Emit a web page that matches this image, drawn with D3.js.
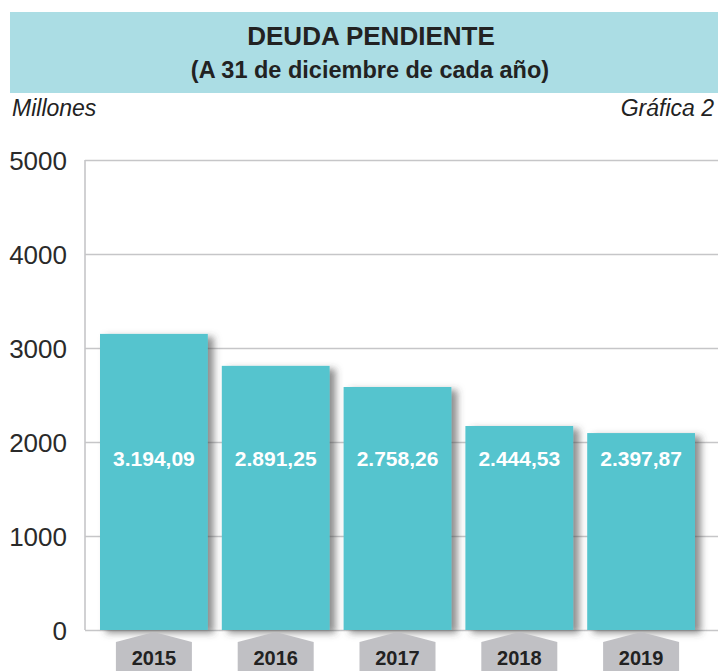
<!DOCTYPE html>
<html>
<head>
<meta charset="utf-8">
<script src="https://cdn.jsdelivr.net/npm/d3@7"></script>
<style>
  body { margin: 0; background: #fff; }
  text { font-family: "Liberation Sans", Arial, sans-serif; }
</style>
</head>
<body>
<div class="chart"></div>
<script>
// data
const years = ["2015", "2016", "2017", "2018", "2019"]
const barValues = [3150, 2810, 2585, 2170, 2095]
const valueLabels = ["3.194,09", "2.891,25", "2.758,26", "2.444,53", "2.397,87"]
const yTicks = [0, 1000, 2000, 3000, 4000, 5000]

const width = 718
const height = 671

const svg = d3.select(".chart").append("svg")
    .attr("width", width)
    .attr("height", height)

const defs = svg.append("defs")
defs.append("filter")
    .attr("id", "shadow")
    .attr("x", "-10%").attr("y", "-10%")
    .attr("width", "130%").attr("height", "130%")
  .append("feDropShadow")
    .attr("dx", 6)
    .attr("dy", 3)
    .attr("stdDeviation", 3.5)
    .attr("flood-color", "#444")
    .attr("flood-opacity", 0.6)

// title band
svg.append("rect")
    .attr("x", 10).attr("y", 12)
    .attr("width", width - 10).attr("height", 81)
    .attr("fill", "#abdde4")

svg.append("text")
    .attr("x", 371).attr("y", 45)
    .attr("text-anchor", "middle")
    .style("font-size", "26px").style("font-weight", "bold")
    .attr("fill", "#222")
    .text("DEUDA PENDIENTE")

svg.append("text")
    .attr("x", 370).attr("y", 78)
    .attr("text-anchor", "middle")
    .style("font-size", "23.5px").style("font-weight", "bold")
    .attr("fill", "#222")
    .text("(A 31 de diciembre de cada año)")

svg.append("text")
    .attr("x", 12).attr("y", 116)
    .style("font-size", "23px").style("font-style", "italic")
    .attr("fill", "#222")
    .text("Millones")

svg.append("text")
    .attr("x", 714).attr("y", 116)
    .attr("text-anchor", "end")
    .style("font-size", "23px").style("font-style", "italic")
    .attr("fill", "#222")
    .text("Gráfica 2")

const x = d3.scaleBand()
    .domain(years)
    .range([100, 695])
    .paddingInner(0.115)
    .paddingOuter(0)

const y = d3.scaleLinear()
    .domain([0, 5000])
    .range([630, 160])

// grid + axis labels
const yAxis = d3.axisLeft(y)
    .tickValues(yTicks)
    .tickSize(-(width - 85))
    .tickPadding(18)
    .tickFormat(d3.format("d"))

svg.append("g")
    .attr("class", "y-axis")
    .attr("transform", "translate(85,0)")
    .call(yAxis)
    .call(g => g.select(".domain").remove())
    .call(g => g.selectAll(".tick line")
        .attr("stroke", "#c6c6c8")
        .attr("stroke-width", 1.6))
    .call(g => g.selectAll(".tick text")
        .attr("fill", "#2a2a2a")
        .attr("dy", "0.36em")
        .style("font-size", "26px")
        .style("font-family", "'Liberation Sans', Arial, sans-serif"))

svg.append("line")
    .attr("x1", 85).attr("x2", 85)
    .attr("y1", y(5000)).attr("y2", y(0))
    .attr("stroke", "#c6c6c8")
    .attr("stroke-width", 1.6)

// bars
svg.selectAll(".bar")
    .data(years)
    .join("rect")
    .attr("class", "bar")
    .attr("x", d => x(d))
    .attr("y", (d, i) => y(barValues[i]))
    .attr("width", x.bandwidth())
    .attr("height", (d, i) => y(0) - y(barValues[i]))
    .attr("fill", "#54c4ce")
    .attr("filter", "url(#shadow)")

svg.selectAll(".label")
    .data(years)
    .join("text")
    .attr("class", "label")
    .attr("x", d => x(d) + x.bandwidth() / 2)
    .attr("y", 466)
    .attr("text-anchor", "middle")
    .attr("fill", "#fff")
    .style("font-size", "21px").style("font-weight", "bold")
    .text((d, i) => valueLabels[i])

// year tags under the bars
const tags = svg.selectAll(".tag")
    .data(years)
    .join("g")
    .attr("class", "tag")
    .attr("transform", d => `translate(${x(d) + x.bandwidth() / 2},0)`)

tags.append("path")
    .attr("d", "M-38,642 L0,632 L38,642 L38,671 L-38,671 Z")
    .attr("fill", "#c0c0c4")

tags.append("text")
    .attr("y", 665)
    .attr("text-anchor", "middle")
    .attr("fill", "#222")
    .style("font-size", "20px").style("font-weight", "bold")
    .text(d => d)
</script>
</body>
</html>
